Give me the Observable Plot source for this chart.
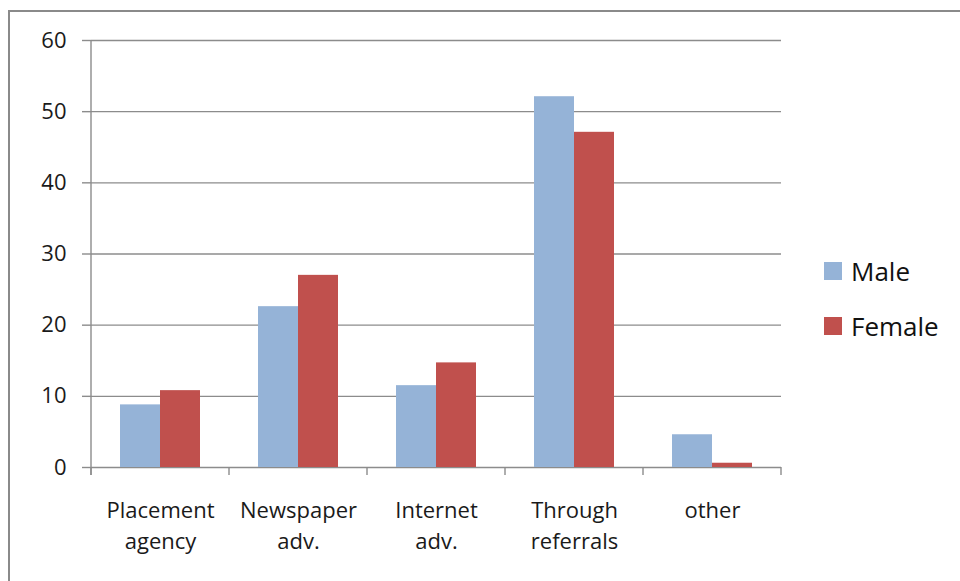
<!DOCTYPE html>
<html><head><meta charset="utf-8">
<script src="https://cdn.jsdelivr.net/npm/d3@7"></script>
<script src="https://cdn.jsdelivr.net/npm/@observablehq/plot@0.6"></script>
<style>
body{margin:0;background:#fff;}
#wrap{position:relative;width:960px;height:581px;overflow:hidden;font-family:"Open Sans",sans-serif;background:#fff;}
#frame{position:absolute;left:8px;top:10px;width:960px;height:600px;border-top:2px solid #8a8a8a;border-left:2px solid #8a8a8a;}
#chart{position:absolute;left:0;top:0;}
#legend{position:absolute;left:824px;top:255px;font-size:26px;color:#111;}
.item{display:flex;align-items:center;height:32px;margin-bottom:23px;}
.sw{width:18px;height:18px;margin-right:9px;}
</style></head>
<body><div id="wrap"><div id="frame"></div><div id="chart"></div><div id="legend"></div></div>
<script>
const categories = ["Placement agency","Newspaper adv.","Internet adv.","Through referrals","other"];
const categoryLabels = ["Placement\nagency","Newspaper\nadv.","Internet\nadv.","Through\nreferrals","other"];
const series = ["Male","Female"];
const male = [8.8, 22.6, 11.5, 52.1, 4.6];
const female = [10.8, 27.0, 14.7, 47.1, 0.6];
const colors = ["#95b3d7", "#c0504d"];
const yTicks = [0, 10, 20, 30, 40, 50, 60];

const data = categories.flatMap((c, i) => [
  {category: c, gender: "Male", value: male[i]},
  {category: c, gender: "Female", value: female[i]}
]);

const plot = Plot.plot({
  width: 960, height: 581,
  marginLeft: 91, marginRight: 179, marginTop: 40, marginBottom: 114,
  style: {fontFamily: "Open Sans", fontSize: "22px", color: "#1a1a1a", background: "transparent"},
  fx: {domain: categories, padding: 0, label: null},
  x: {domain: series, paddingInner: 0, paddingOuter: 0.725, axis: null},
  y: {domain: [0, 60], ticks: yTicks, label: null},
  color: {domain: series, range: colors},
  marks: [
    Plot.gridY(yTicks, {stroke: "#8c8c8c", strokeOpacity: 1, strokeWidth: 1.4}),
    Plot.barY(data, {fx: "category", x: "gender", y: "value", fill: "gender"}),
    Plot.axisY(yTicks, {tickSize: 9, tickPadding: 16, label: null, stroke: "#8c8c8c", strokeWidth: 1.4}),
    Plot.axisFx({anchor: "bottom", tickSize: 0, tickPadding: 29, label: null, lineHeight: 1.4,
      tickFormat: d => categoryLabels[categories.indexOf(d)]})
  ]
});
document.getElementById("chart").appendChild(plot);

// category boundary ticks and vertical axis line, from the library's scales
const fx = plot.scale("fx");
const ys = plot.scale("y");
const y0 = ys.apply(0), yTop = ys.apply(60);
const starts = categories.map(c => fx.apply(c));
const step = fx.step || (starts[1] - starts[0]);
const bounds = starts.concat([starts[starts.length - 1] + step]);
const svg = d3.select(plot);
const g = svg.append("g").attr("stroke", "#8c8c8c").attr("stroke-width", 1.4);
bounds.forEach(b => g.append("line").attr("x1", b).attr("x2", b).attr("y1", y0).attr("y2", y0 + 8));
g.append("line").attr("x1", starts[0]).attr("x2", starts[0]).attr("y1", yTop).attr("y2", y0 + 8);

// legend
const legend = d3.select("#legend");
series.forEach((s, i) => {
  const it = legend.append("div").attr("class", "item");
  it.append("div").attr("class", "sw").style("background", colors[i]);
  it.append("span").text(s);
});
</script>
</body></html>
